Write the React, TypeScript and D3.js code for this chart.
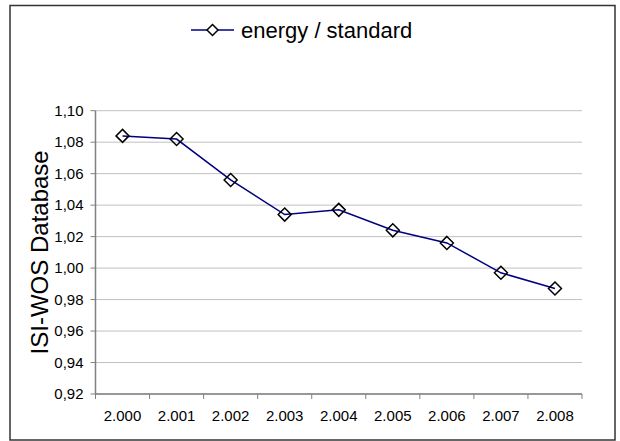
import React from "react";
import * as d3 from "d3";

const categories = ["2.000", "2.001", "2.002", "2.003", "2.004", "2.005", "2.006", "2.007", "2.008"];
const values = [1.084, 1.082, 1.056, 1.034, 1.037, 1.024, 1.016, 0.997, 0.987];
const yTicks = [0.92, 0.94, 0.96, 0.98, 1.0, 1.02, 1.04, 1.06, 1.08, 1.1];
const seriesName = "energy / standard";
const yTitle = "ISI-WOS Database";

const W = 620;
const H = 441;
const plot = { left: 95.5, right: 582, top: 110.7, bottom: 394 };
const font = "'Liberation Sans', Arial, sans-serif";

export default function App() {
  const x = d3.scaleBand<string>().domain(categories).range([plot.left, plot.right]);
  const y = d3.scaleLinear().domain([0.92, 1.1]).range([plot.bottom, plot.top]);
  const line = d3
    .line<number>()
    .x((_, i) => (x(categories[i]) as number) + x.bandwidth() / 2)
    .y((d) => y(d));
  const fmt = (v: number) => v.toFixed(2).replace(".", ",");
  const diamond = (cx: number, cy: number, r: number) =>
    `M${cx},${cy - r}L${cx + r},${cy}L${cx},${cy + r}L${cx - r},${cy}Z`;
  const boundaries = d3.range(categories.length + 1).map((i) => plot.left + i * x.step());

  return (
    <svg
      width={W}
      height={H}
      style={{ position: "absolute", left: 0, top: 0, background: "#fff" }}
    >
      <rect x={10} y={5.5} width={605} height={434.5} fill="#fff" stroke="#333" strokeWidth={1.5} />
      {/* gridlines */}
      {yTicks.map((t) => (
        <line key={t} x1={plot.left} x2={plot.right} y1={y(t)} y2={y(t)} stroke="#c0c0c0" strokeWidth={1} />
      ))}
      {/* y axis */}
      <line x1={plot.left} x2={plot.left} y1={plot.top} y2={plot.bottom} stroke="#808080" strokeWidth={1.5} />
      {yTicks.map((t) => (
        <g key={"yt" + t}>
          <line x1={plot.left - 5} x2={plot.left} y1={y(t)} y2={y(t)} stroke="#808080" strokeWidth={1} />
          <text x={plot.left - 12} y={y(t)} dy="0.35em" textAnchor="end" fontFamily={font} fontSize={15} fill="#000">
            {fmt(t)}
          </text>
        </g>
      ))}
      {/* x axis */}
      <line x1={plot.left} x2={plot.right} y1={plot.bottom} y2={plot.bottom} stroke="#808080" strokeWidth={1.5} />
      {boundaries.map((bx, i) => (
        <line key={"xt" + i} x1={bx} x2={bx} y1={plot.bottom} y2={plot.bottom + 5} stroke="#808080" strokeWidth={1} />
      ))}
      {categories.map((c) => (
        <text
          key={c}
          x={(x(c) as number) + x.bandwidth() / 2}
          y={plot.bottom + 22}
          dy="0.35em"
          textAnchor="middle"
          fontFamily={font}
          fontSize={15}
          fill="#000"
        >
          {c}
        </text>
      ))}
      {/* y title */}
      <text
        transform={`translate(40,${(plot.top + plot.bottom) / 2}) rotate(-90)`}
        textAnchor="middle"
        dy="0.35em"
        fontFamily={font}
        fontSize={24}
        fill="#000"
      >
        {yTitle}
      </text>
      {/* series */}
      <path d={line(values) || ""} fill="none" stroke="#000080" strokeWidth={1.5} />
      {values.map((v, i) => (
        <path
          key={i}
          d={diamond((x(categories[i]) as number) + x.bandwidth() / 2, y(v), 6.5)}
          fill="#fff"
          fillOpacity={0}
          stroke="#000"
          strokeWidth={1.5}
        />
      ))}
      {/* legend */}
      <line x1={191} x2={234} y1={30} y2={30} stroke="#000080" strokeWidth={1.5} />
      <path d={diamond(212.5, 30, 5.5)} fill="#fff" stroke="#000" strokeWidth={1.5} />
      <text x={241} y={30} dy="0.35em" fontFamily={font} fontSize={22} fill="#000">
        {seriesName}
      </text>
    </svg>
  );
}
